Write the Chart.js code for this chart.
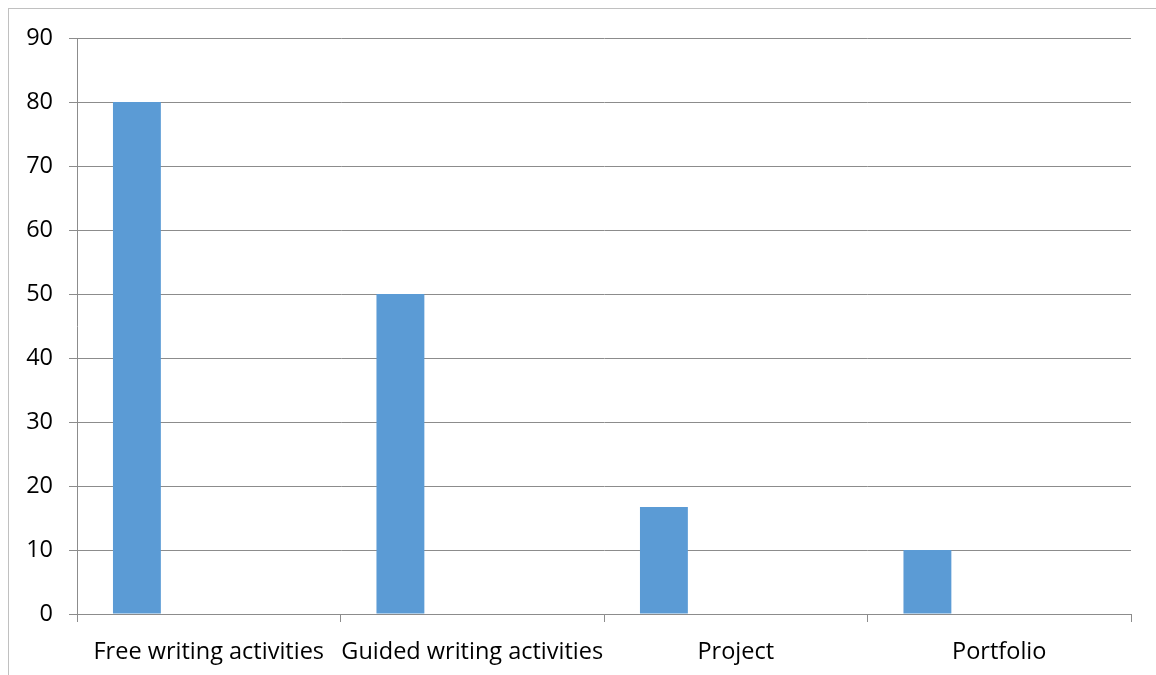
<!DOCTYPE html>
<html>
<head>
<meta charset="utf-8">
<script src="https://cdn.jsdelivr.net/npm/chart.js@4"></script>
<style>
  html, body { margin: 0; padding: 0; background: #fff; overflow: hidden; }
  #wrap { position: relative; width: 1156px; height: 675px; overflow: hidden; }
  #frame { position: absolute; left: 8px; top: 8px; width: 1300px; height: 900px; border: 1px solid #c0c0c0; box-sizing: border-box; }
  canvas { position: absolute; left: 0; top: 0; }
</style>
</head>
<body>
<div id="wrap">
  <div id="frame"></div>
  <canvas id="barChart" width="1156" height="675"></canvas>
</div>
<script>
const categories = ['Free writing activities', 'Guided writing activities', 'Project', 'Portfolio'];
const series1 = [80, 50, 16.7, 10];
// the other three series in the sheet are empty
const series2 = [0, 0, 0, 0];
const series3 = [0, 0, 0, 0];
const series4 = [0, 0, 0, 0];
const yTicks = [0, 10, 20, 30, 40, 50, 60, 70, 80, 90];

const barColor = '#5b9bd5';
const gridColor = '#8c8c8c';
const font = { family: '"Open Sans", "Noto Sans", sans-serif', size: 23.5 };

function ds(values) {
  return { data: values, backgroundColor: barColor, borderWidth: 0, categoryPercentage: 0.727, barPercentage: 1 };
}

new Chart(document.getElementById('barChart'), {
  type: 'bar',
  data: {
    labels: categories,
    datasets: [ds(series1), ds(series2), ds(series3), ds(series4)]
  },
  options: {
    responsive: false,
    animation: false,
    layout: { padding: { top: 38, right: 25, left: 0, bottom: 0 } },
    plugins: { legend: { display: false }, tooltip: { enabled: false } },
    scales: {
      x: {
        grid: { display: true, drawOnChartArea: false, color: gridColor, tickLength: 8, offset: true },
        border: { color: gridColor },
        ticks: { color: '#000', font: font, padding: 16, maxRotation: 0, autoSkip: false },
        afterFit: s => { s.height = 61; }
      },
      y: {
        min: 0,
        max: 90,
        afterBuildTicks: s => { s.ticks = yTicks.map(v => ({ value: v })); },
        grid: { color: gridColor, tickLength: 8 },
        border: { color: gridColor },
        ticks: { color: '#000', font: font, padding: 16 },
        afterFit: s => { s.width = 77; }
      }
    }
  }
});
</script>
</body>
</html>
